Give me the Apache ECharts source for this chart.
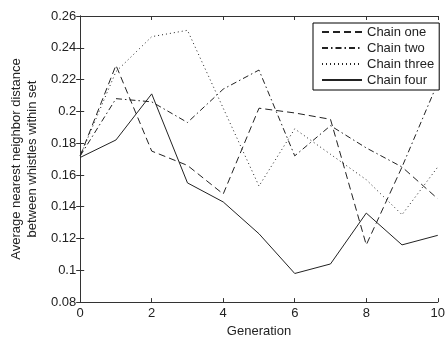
<!DOCTYPE html>
<html>
<head>
<meta charset="utf-8">
<script src="https://cdn.jsdelivr.net/npm/echarts@6/dist/echarts.min.js"></script>
<style>
  html, body { margin: 0; padding: 0; background: #fff; }
  #chart { width: 448px; height: 343px; }
</style>
</head>
<body>
<div id="chart"></div>
<script>
const generations = [0, 1, 2, 3, 4, 5, 6, 7, 8, 9, 10]
const chainOne = [0.172, 0.229, 0.175, 0.166, 0.148, 0.202, 0.199, 0.195, 0.116, 0.165, 0.145]
const chainTwo = [0.172, 0.208, 0.206, 0.193, 0.214, 0.226, 0.172, 0.191, 0.177, 0.165, 0.218]
const chainThree = [0.172, 0.225, 0.247, 0.251, 0.202, 0.153, 0.189, 0.173, 0.157, 0.135, 0.165]
const chainFour = [0.171, 0.182, 0.211, 0.155, 0.143, 0.123, 0.098, 0.104, 0.136, 0.116, 0.122]
const seriesNames = ['Chain one', 'Chain two', 'Chain three', 'Chain four']

const font = 'Liberation Sans, Arial, sans-serif'
const ink = '#222'

const toPoints = (values) => values.map((v, i) => [generations[i], v])

const makeLine = (name, values, dash) => ({
  name,
  type: 'line',
  xAxisIndex: 0,
  yAxisIndex: 0,
  data: toPoints(values),
  symbol: 'none',
  lineStyle: { color: ink, width: 1, type: dash },
  itemStyle: { color: ink },
  emphasis: { disabled: true }
})

const frameAxis = {
  axisLine: { show: true, lineStyle: { color: '#333', width: 1 } },
  axisTick: { show: true, inside: true, length: 4, lineStyle: { color: '#333' } },
  splitLine: { show: false }
}

const chart = echarts.init(document.getElementById('chart'))
chart.setOption({
  animation: false,
  backgroundColor: '#fff',
  grid: { left: 75, right: 4, top: 16, bottom: 37 },
  legend: {
    orient: 'vertical',
    left: 313,
    top: 23,
    data: seriesNames,
    itemWidth: 40,
    itemHeight: 14,
    itemGap: 2,
    padding: [2, 5, 3, 8],
    borderColor: '#000',
    borderWidth: 1,
    backgroundColor: '#fff',
    itemStyle: { opacity: 0 },
    textStyle: { fontFamily: font, fontSize: 13, color: ink, lineHeight: 14 }
  },
  xAxis: [
    {
      type: 'value',
      min: 0,
      max: 10,
      interval: 2,
      name: 'Generation',
      nameLocation: 'middle',
      nameGap: 21,
      nameTextStyle: { fontFamily: font, fontSize: 13, color: ink },
      axisLabel: { fontFamily: font, fontSize: 13, color: ink, margin: 5 },
      ...frameAxis
    },
    {
      type: 'value',
      position: 'top',
      min: 0,
      max: 10,
      interval: 2,
      axisLabel: { show: false },
      ...frameAxis
    }
  ],
  yAxis: [
    {
      type: 'value',
      min: 0.08,
      max: 0.26,
      interval: 0.02,
      name: 'Average nearest neighbor distance\nbetween whistles within set',
      nameLocation: 'middle',
      nameGap: 36,
      nameTextStyle: { fontFamily: font, fontSize: 13, color: ink, lineHeight: 16 },
      axisLabel: {
        fontFamily: font,
        fontSize: 13,
        color: ink,
        margin: 4,
        formatter: (v) => String(+v.toFixed(2))
      },
      ...frameAxis
    },
    {
      type: 'value',
      position: 'right',
      min: 0.08,
      max: 0.26,
      interval: 0.02,
      axisLabel: { show: false },
      ...frameAxis
    }
  ],
  series: [
    makeLine(seriesNames[0], chainOne, [7, 4]),
    makeLine(seriesNames[1], chainTwo, [6, 3, 1.5, 3]),
    makeLine(seriesNames[2], chainThree, [1, 3]),
    makeLine(seriesNames[3], chainFour, 'solid')
  ]
})
</script>
</body>
</html>
